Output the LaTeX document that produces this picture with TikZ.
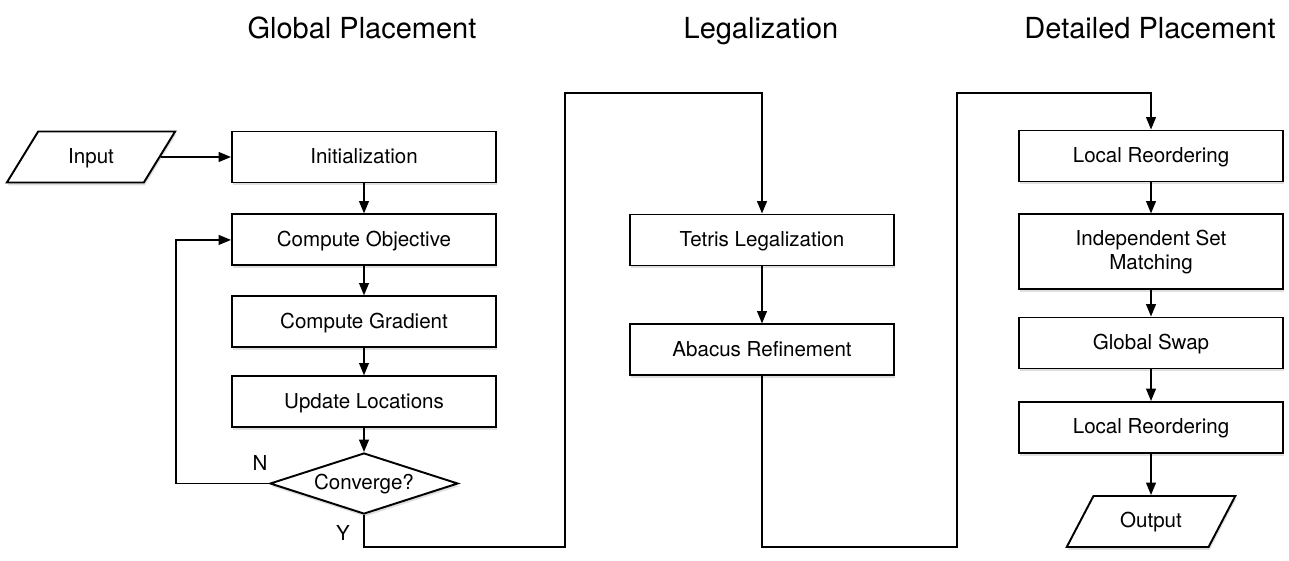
\documentclass[tikz,border=0pt]{standalone}
\usepackage{fontspec}
\setmainfont{TeX Gyre Heros}
\usetikzlibrary{arrows.meta,positioning,shapes.geometric,shadows}

\begin{document}
\begin{tikzpicture}[
  boxbase/.style={
    draw,
    line width=1.1pt,
    fill=white,
    align=center,
    font=\fontsize{11.7}{14}\selectfont,
    drop shadow={shadow xshift=0.6pt,shadow yshift=-1.6pt,opacity=0.25}
  },
  stage/.style={
    boxbase,
    minimum height=1.02cm,
    minimum width=5.28cm,
    text height=0.72em,
    text depth=0pt
  },
  tallstage/.style={
    boxbase,
    minimum height=1.5cm,
    minimum width=5.28cm
  },
  io/.style={
    boxbase,
    trapezium,
    trapezium left angle=55,
    trapezium right angle=125,
    trapezium stretches=true,
    minimum width=3.38cm,
    minimum height=1.02cm,
    text height=0.72em,
    text depth=0pt
  },
  decision/.style={
    boxbase,
    diamond,
    aspect=3,
    inner sep=0pt,
    minimum width=3.76cm,
    minimum height=1.22cm,
    text height=0.72em,
    text depth=0pt
  },
  arrow/.style={-{Triangle[length=7pt,width=5.5pt]},line width=1pt},
  phase/.style={font=\fontsize{16.5}{20}\selectfont,anchor=base},
  branch/.style={font=\fontsize{11.7}{14}\selectfont}
]
  \useasboundingbox (0,0) rectangle (25.78,-11.2);

  % phase titles
  \node[phase] (gptitle) at (7.24,-0.78) {Global Placement};
  \node[phase] (lgtitle) at (15.22,-0.78) {Legalization};
  \node[phase] (dptitle) at (23.0,-0.78) {Detailed Placement};

  % global placement
  \node[io] (input) at (1.82,-3.14) {Input};
  \node[stage] (init) at (7.28,-3.14) {Initialization};
  \node[stage, below=0.6cm of init] (objective) {Compute Objective};
  \node[stage, below=0.58cm of objective] (gradient) {Compute Gradient};
  \node[stage, below=0.54cm of gradient] (update) {Update Locations};
  \node[decision] (converge) at (7.28,-9.67) {Converge?};
  \node[branch] (nlabel) at (5.2,-9.26) {N};
  \node[branch] (ylabel) at (6.86,-10.66) {Y};

  % legalization
  \node[stage] (tetris) at (15.24,-4.80) {Tetris Legalization};
  \node[stage, below=1.14cm of tetris] (abacus) {Abacus Refinement};

  % detailed placement
  \node[stage] (reorderA) at (23.02,-3.12) {Local Reordering};
  \node[tallstage, below=0.62cm of reorderA] (matching)
    {Independent Set\\Matching};
  \node[stage] (swap) at (23.02,-6.86) {Global Swap};
  \node[stage] (reorderB) at (23.02,-8.55) {Local Reordering};
  \node[io] (output) at (23.02,-10.43) {Output};

  % routing points
  \coordinate (loopback) at (3.52,0);
  \coordinate (floor) at (0,-10.94);
  \coordinate (jumpA) at (11.3,-1.86);
  \coordinate (jumpB) at (19.14,-1.86);

  \draw[arrow] (input) -- (init);
  \draw[arrow] (init) -- (objective);
  \draw[arrow] (objective) -- (gradient);
  \draw[arrow] (gradient) -- (update);
  \draw[arrow] (update) -- (converge);
  \draw[arrow] (converge.west) -- (converge.west -| loopback) |- (objective.west);
  \draw[arrow] (converge.south) -- (converge.south |- floor) -| (jumpA) -| (tetris.north);

  \draw[arrow] (tetris) -- (abacus);
  \draw[arrow] (abacus.south) -- (abacus.south |- floor) -| (jumpB) -| (reorderA.north);

  \draw[arrow] (reorderA) -- (matching);
  \draw[arrow] (matching) -- (swap);
  \draw[arrow] (swap) -- (reorderB);
  \draw[arrow] (reorderB) -- (output);
\end{tikzpicture}
\end{document}
